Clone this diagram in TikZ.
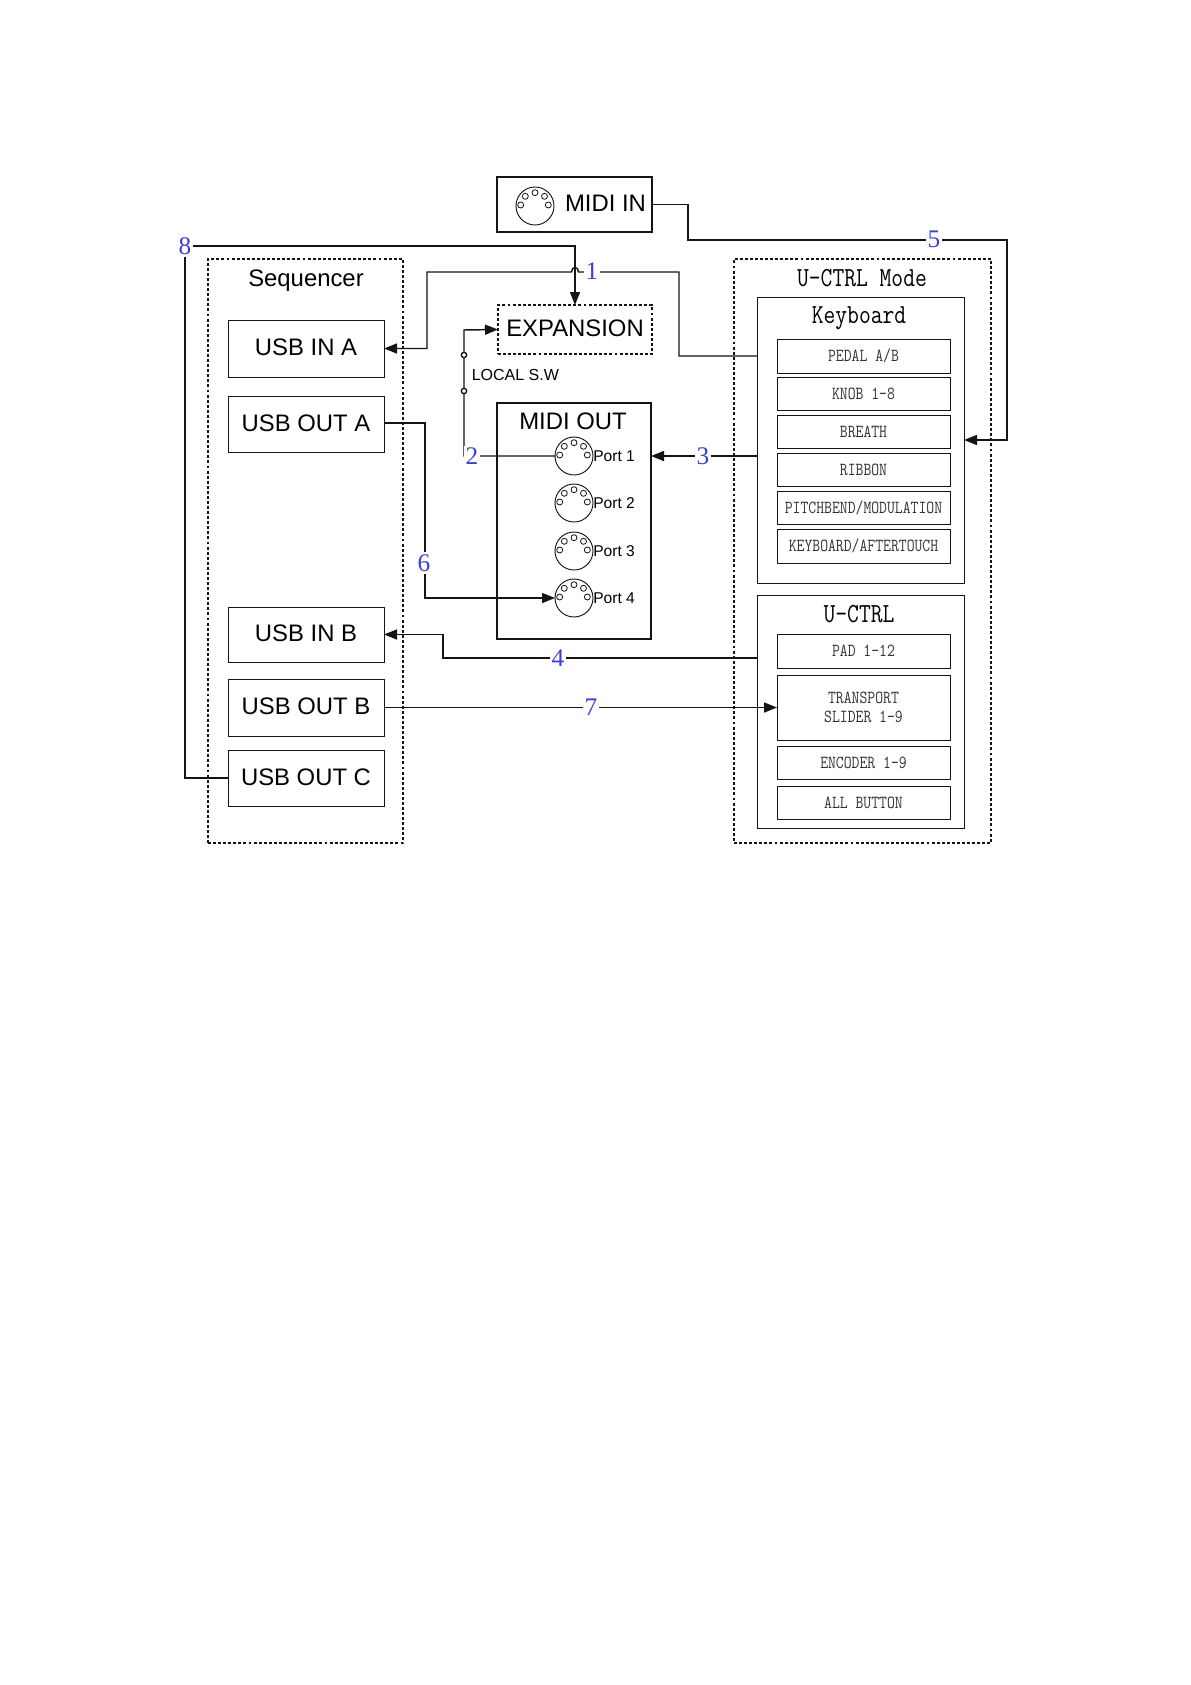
\documentclass[tikz,border=0pt]{standalone}
\usepackage{fontspec}
\setsansfont{Liberation Sans}
\setmonofont[FakeStretch=0.83]{Latin Modern Mono}
\newfontfamily\digitfont{Liberation Serif}
\usetikzlibrary{arrows.meta}
\definecolor{numblue}{RGB}{58,66,210}
\definecolor{ink}{RGB}{20,20,20}
\newcommand{\bx}[7]{\node[#1] (#2) at ({(#3+#5)/2},{(#4+#6)/2}) [minimum width={(#5-#3)*0.75pt}, minimum height={(#6-#4)*0.75pt}] {#7};}
\newcommand{\dinport}[3]{%
  \node[din] (#1) at (#2,#3) {};
  \foreach \hx/\hy in {-14.3/-1,-9.7/-9.7,0/-13.3,9.5/-9.7,13.3/-1}
    \draw[thinline] (#1.center) ++(\hx,\hy) circle[radius=2.25pt];
}
\tikzset{
  x=0.75pt,y=-0.75pt,
  thinline/.style={draw=ink,line width=0.6pt},
  boxbase/.style={draw=ink,inner sep=0pt,outer sep=0pt,line width=0.75pt},
  bigbox/.style={boxbase,text depth=2pt,font=\sffamily\fontsize{17.9pt}{20pt}\selectfont},
  heavybox/.style={bigbox,line width=1.1pt},
  dashbox/.style={bigbox,line width=1pt,dash pattern=on 2.2pt off 1.6pt},
  itembox/.style={boxbase,text=black!80,align=center,font=\ttfamily\fontsize{13.8pt}{14.25pt}\selectfont},
  groupbox/.style={boxbase},
  din/.style={circle,draw=ink,line width=0.7pt,minimum size=28.5pt,inner sep=0pt,outer sep=0pt},
  title/.style={anchor=base,inner sep=0pt},
  sanstitle/.style={title,font=\sffamily\fontsize{17.9pt}{20pt}\selectfont},
  monotitle/.style={title,font=\ttfamily\fontsize{20.7pt}{22pt}\selectfont},
  portlabel/.style={anchor=base west,inner sep=0pt,font=\sffamily\fontsize{11.7pt}{13pt}\selectfont},
  swlabel/.style={anchor=west,inner sep=0pt,font=\sffamily\fontsize{12pt}{14pt}\selectfont},
  num/.style={fill=white,text=numblue,inner sep=1.5pt,font=\digitfont\fontsize{19pt}{20pt}\selectfont},
  wire/.style={draw=ink,line width=1.1pt},
  arrowwire/.style={wire,-{Triangle[length=9.75pt,width=7.5pt]}},
  swdot/.style={circle,draw=ink,fill=white,line width=1pt,minimum size=4pt,inner sep=0pt,outer sep=0pt}
}
\begin{document}
\begin{tikzpicture}
\useasboundingbox (0,0) rectangle (1191,1685);
\fill[white] (0,0) rectangle (1191,1685);
% sources
\bx{heavybox}{midiin}{497}{177}{652}{232}{\hspace*{46.5pt}MIDI IN}
\dinport{midiinjack}{535}{206}
% sequencer
\bx{dashbox}{sequencer}{208}{259}{403}{843}{}
\node[sanstitle] (seqtitle) at (306,286) {Sequencer};
\bx{bigbox}{usbina}{228}{320}{384}{377}{USB IN A}
\bx{bigbox}{usbouta}{228}{396}{384}{452}{USB OUT A}
\bx{bigbox}{usbinb}{228}{607}{384}{662}{USB IN B}
\bx{bigbox}{usboutb}{228}{679}{384}{736}{USB OUT B}
\bx{bigbox}{usboutc}{228}{750}{384}{806}{USB OUT C}
% expansion
\bx{dashbox}{expansion}{498}{305}{652}{354}{EXPANSION}
\node[swlabel] (localsw) at (471.5,375) {LOCAL S.W};
% midi out
\bx{heavybox}{midiout}{497}{403}{651}{639}{}
\node[sanstitle] (outtitle) at (573,429) {MIDI OUT};
\dinport{port1}{574}{456}
\dinport{port2}{574}{503}
\dinport{port3}{574}{551}
\dinport{port4}{574}{598}
\node[portlabel] (p1) at (593,461) {Port 1};
\node[portlabel] (p2) at (593,508) {Port 2};
\node[portlabel] (p3) at (593,556) {Port 3};
\node[portlabel] (p4) at (593,603) {Port 4};
% u-ctrl mode
\bx{dashbox}{mode}{734}{259}{991}{843}{}
\node[monotitle] (modetitle) at (862,286) {U-CTRL Mode};
\bx{groupbox}{kbd}{757}{297}{964}{583}{}
\node[monotitle] (kbdtitle) at (859,323) {Keyboard};
\bx{itembox}{pedal}{777}{339}{950}{373}{PEDAL A/B}
\bx{itembox}{knob}{777}{377}{950}{410}{KNOB 1-8}
\bx{itembox}{breath}{777}{415}{950}{448}{BREATH}
\bx{itembox}{ribbon}{777}{453}{950}{486}{RIBBON}
\bx{itembox}{pitch}{777}{491}{950}{524}{PITCHBEND/MODULATION}
\bx{itembox}{keyat}{777}{529}{950}{563}{KEYBOARD/AFTERTOUCH}
\bx{groupbox}{uctrl}{757}{595}{964}{828}{}
\node[monotitle] (uctrltitle) at (859,622) {U-CTRL};
\bx{itembox}{pad}{777}{634}{950}{668}{PAD 1-12}
\bx{itembox}{transport}{777}{675}{950}{740}{TRANSPORT\\SLIDER 1-9}
\bx{itembox}{encoder}{777}{746}{950}{779}{ENCODER 1-9}
\bx{itembox}{allbtn}{777}{786}{950}{819}{ALL BUTTON}
\coordinate (c8) at (185,246);
% connectors
\draw[arrowwire] (pedal -| kbd.west) -- (679,356) -- (679,272) -- (578.5,272)
   .. controls (578.5,266) and (571.5,266) .. (571.5,272) -- (427,272) -- (427,348.5) -- (usbina.east);
\draw[arrowwire] (usboutc.west) -| (c8) -| (expansion.north);
\draw[arrowwire] (port1.west) -| (464,330) -- (expansion.west);
\draw[arrowwire] (kbd.west |- port1) -- (midiout.east |- port1);
\draw[arrowwire] (usbouta.east |- 0,423) -- (425,423) |- (port4.west);
\draw[arrowwire] (uctrl.west |- 0,658) -- (443,658) -- (443,634.5) -- (usbinb.east);
\draw[arrowwire] (usboutb.east) -- (transport.west);
\draw[arrowwire] (midiin.east) -- (688,204.5) -- (688,240) -- (1007,240) -- (1007,440) -- (kbd.east |- 0,440);
\node[swdot] (sw1) at (464,355) {};
\node[swdot] (sw2) at (464,391) {};
% numbers
\node[num] (n1) at (592,271) {1};
\node[num] (n2) at (472,456) {2};
\node[num] (n3) at (703,456) {3};
\node[num] (n4) at (558,658) {4};
\node[num] (n5) at (934,239) {5};
\node[num] (n6) at (424,563) {6};
\node[num] (n7) at (591,707) {7};
\node[num] (n8) at (c8) {8};
\end{tikzpicture}
\end{document}
